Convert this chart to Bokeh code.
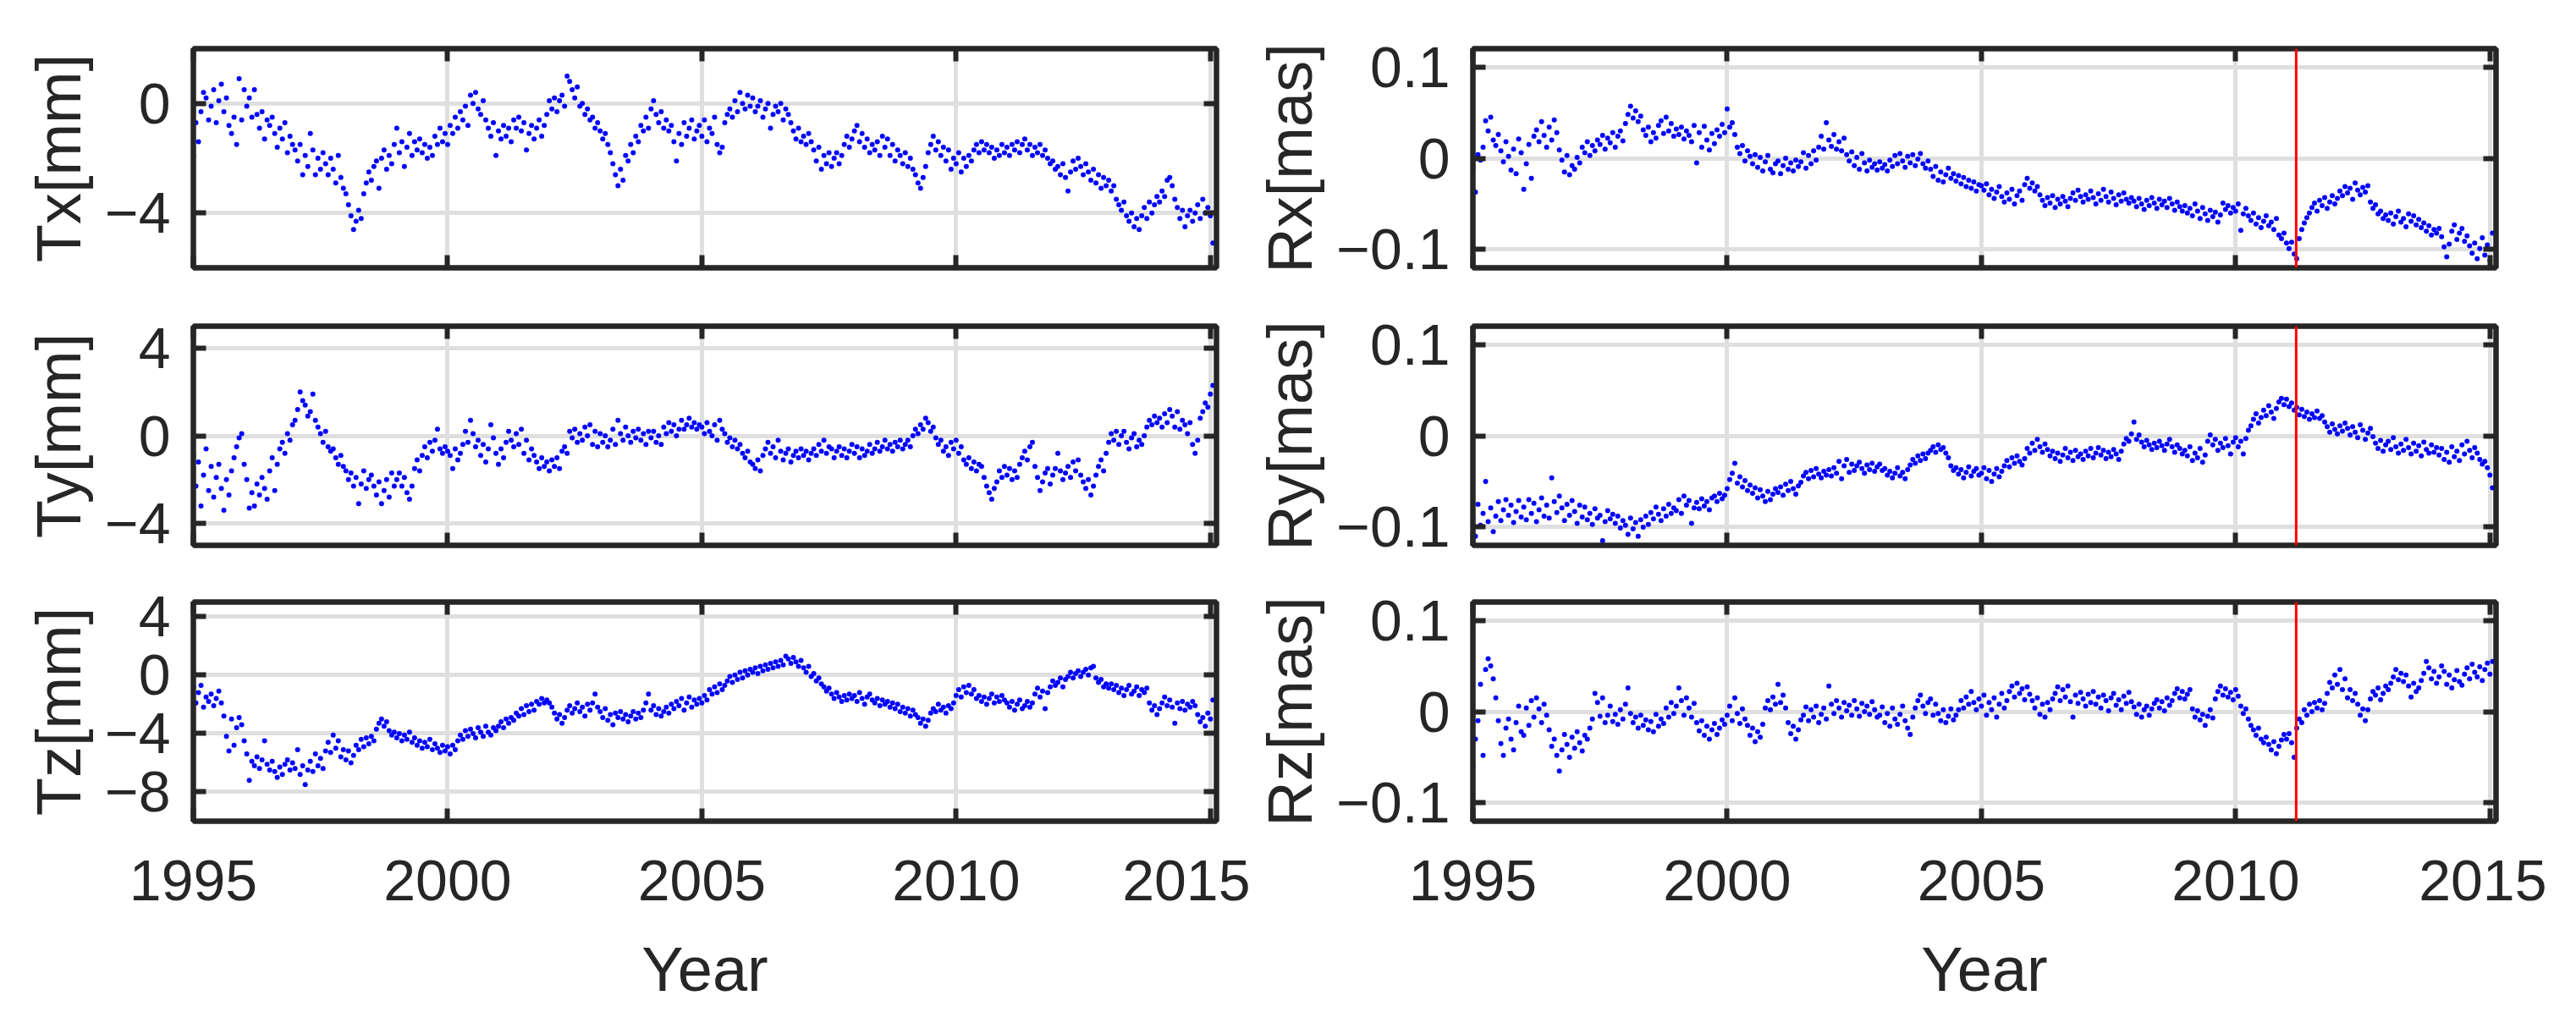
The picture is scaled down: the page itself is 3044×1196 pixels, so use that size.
import numpy as np
from bokeh.plotting import figure
from bokeh.layouts import column, row
from bokeh.models import Range1d, FixedTicker, LinearAxis, Span
from bokeh.embed import file_html
from bokeh.resources import INLINE

# ---------------- data (20 samples per year, starting 1995.00) ----------------
START_YEAR = 1995.0
STEP = 0.05

x_ticks = [1995, 2000, 2005, 2010, 2015]
x_label = "Year"

Tx = [
-1.9,-0.7,-1.4,-0.3,0.4,0.2,-0.6,-0.1,0.5,-0.7,0.1,0.7,-0.3,0.2,-0.8,-1.1,-0.5,-1.5,0.9,-0.6,
0.5,-0.1,0.2,-0.5,0.5,-0.4,-0.9,-0.3,-1.3,-0.6,-0.8,-0.5,-1.1,-1.6,-0.9,-1.3,-0.7,-1.8,-1.2,-1.5,
-1.7,-2.1,-1.5,-2.6,-1.9,-2.3,-1.1,-1.7,-2.6,-2.0,-2.4,-1.8,-2.2,-2.6,-2.0,-2.4,-2.9,-1.9,-2.7,-3.1,
-3.3,-3.7,-4.1,-4.6,-4.3,-3.9,-4.2,-3.3,-2.9,-2.5,-2.8,-2.3,-2.1,-3.1,-2.0,-1.7,-2.4,-1.9,-2.2,-1.5,
-0.9,-1.8,-1.4,-2.3,-1.6,-1.1,-1.9,-1.4,-1.7,-1.3,-1.8,-1.5,-2.0,-1.6,-1.9,-1.2,-1.5,-0.9,-1.4,-1.1,
-1.5,-0.8,-1.1,-0.5,-0.9,-0.3,-0.6,-0.1,-0.8,0.3,0.0,0.4,-0.2,-0.4,0.1,-0.6,-0.9,-1.2,-0.7,-1.9,
-1.0,-1.3,-0.8,-1.2,-0.9,-1.4,-0.6,-0.9,-0.5,-1.0,-0.7,-1.7,-1.1,-0.8,-1.3,-0.9,-0.6,-1.2,-0.8,-0.4,
0.1,-0.2,0.2,-0.3,0.1,0.3,-0.1,1.0,0.8,0.5,0.2,0.6,-0.1,0.0,-0.4,-0.2,-0.6,-0.5,-0.9,-0.7,
-1.0,-1.3,-1.1,-1.5,-1.8,-2.2,-2.6,-3.0,-2.4,-2.8,-1.9,-2.1,-1.5,-1.8,-1.2,-1.4,-0.8,-1.0,-0.5,-0.9,
-0.2,0.1,-0.4,-0.7,-0.3,-0.9,-0.6,-1.0,-0.8,-1.4,-2.1,-1.1,-1.5,-0.7,-1.2,-0.9,-0.6,-1.3,-1.0,-0.8,
-1.2,-0.6,-1.4,-0.9,-1.1,-0.5,-1.5,-1.8,-1.6,-0.7,-0.4,-0.2,-0.5,0.1,-0.3,0.4,0.0,-0.2,0.3,-0.1,
0.2,-0.3,-0.1,0.1,-0.5,-0.2,0.0,-0.9,-0.4,-0.1,-0.3,0.0,-0.6,-0.2,-0.4,-0.7,-1.0,-1.3,-0.9,-1.4,
-1.2,-1.5,-1.1,-1.4,-1.7,-2.1,-1.6,-2.4,-1.9,-2.2,-1.8,-2.3,-2.0,-1.8,-2.2,-1.9,-1.5,-1.2,-1.6,-1.3,
-1.0,-0.8,-1.4,-1.1,-1.6,-1.3,-1.8,-1.5,-1.7,-1.4,-1.9,-1.2,-1.6,-1.3,-1.9,-1.5,-2.1,-1.7,-1.9,-2.2,
-1.8,-2.3,-2.0,-2.4,-2.6,-2.9,-3.1,-2.7,-2.3,-1.8,-1.5,-1.2,-1.7,-1.4,-1.9,-1.6,-2.1,-1.7,-2.4,-2.0,
-2.2,-1.8,-2.5,-2.0,-2.3,-1.9,-2.1,-1.7,-1.5,-1.8,-1.4,-1.7,-1.5,-1.8,-1.6,-2.0,-1.7,-1.9,-1.5,-1.8,
-1.6,-1.9,-1.5,-1.7,-1.4,-1.8,-1.5,-1.3,-1.7,-1.5,-1.9,-1.6,-1.8,-1.5,-1.9,-1.7,-2.0,-2.2,-2.1,-2.4,
-2.3,-2.6,-2.2,-2.7,-3.2,-2.5,-2.1,-2.4,-2.0,-2.3,-2.6,-2.2,-2.5,-2.8,-2.4,-2.9,-2.6,-3.1,-2.7,-3.0,
-2.8,-3.2,-3.0,-3.5,-3.7,-3.9,-3.6,-4.1,-4.3,-4.0,-4.5,-4.2,-4.6,-4.1,-3.8,-4.2,-3.6,-4.0,-3.7,-3.4,
-3.6,-3.2,-3.4,-2.8,-2.7,-3.0,-3.5,-3.8,-4.2,-3.9,-4.5,-4.1,-3.9,-4.3,-4.0,-3.7,-4.2,-3.5,-4.0,-3.8,
-4.1,-5.1,
]

Ty = [
-0.9,-2.3,-1.2,-3.2,-1.8,-0.6,-2.5,-1.4,-2.8,-1.9,-1.3,-2.4,-3.4,-2.0,-2.7,-1.6,-1.0,-0.5,-0.1,0.1,
-1.3,-2.0,-3.3,-2.6,-3.2,-2.2,-2.7,-1.9,-2.4,-2.9,-1.6,-1.0,-2.5,-1.3,-0.6,-0.3,-0.8,0.1,-0.2,0.5,
0.7,1.2,2.0,1.6,1.4,0.9,1.1,1.9,0.7,0.4,0.1,-0.3,0.2,-0.5,-0.7,-0.6,-1.0,-1.3,-0.9,-1.4,
-1.6,-2.0,-1.7,-2.3,-1.9,-3.1,-2.2,-1.6,-2.4,-2.0,-1.8,-2.3,-2.7,-2.1,-3.1,-2.5,-2.0,-2.8,-1.7,-2.3,
-2.0,-1.7,-2.3,-1.9,-2.6,-2.9,-2.3,-1.5,-1.1,-1.6,-0.9,-0.5,-1.0,-0.3,-0.7,-0.2,0.3,-0.6,-0.8,-0.5,
-0.7,-0.9,-1.5,-0.6,-1.1,-0.8,-0.4,0.2,-0.3,0.7,0.1,-0.5,-0.2,-0.9,-0.4,-1.2,-0.6,0.5,-0.1,-0.8,
-1.3,-0.6,-1.0,-0.3,0.2,-0.2,-0.5,0.1,-0.4,0.3,-0.8,-0.2,-1.1,-0.6,-0.9,-1.2,-1.5,-1.0,-1.4,-1.2,
-1.6,-1.1,-1.4,-1.0,-1.5,-0.7,-0.5,-0.8,0.2,-0.1,0.3,-0.3,0.1,-0.2,0.4,0.0,0.5,-0.4,0.2,-0.5,
0.1,-0.3,0.0,-0.5,-0.2,0.3,-0.4,0.7,0.1,-0.2,0.4,0.0,-0.3,0.2,-0.1,0.3,-0.2,0.1,-0.4,0.2,
-0.1,0.2,-0.3,0.0,-0.4,0.4,0.1,0.6,0.2,0.5,0.0,0.3,0.7,0.3,0.5,0.8,0.4,0.6,0.3,0.5,
0.4,0.1,0.6,0.2,0.0,0.5,-0.2,0.7,0.3,0.1,-0.3,-0.1,-0.5,-0.2,-0.6,-0.4,-0.8,-1.0,-0.7,-1.2,
-1.3,-1.5,-1.1,-1.6,-0.9,-0.6,-0.3,-0.8,-0.5,-1.0,-0.2,-0.7,-1.1,-0.8,-0.6,-1.2,-0.9,-0.7,-1.0,-0.6,
-0.9,-0.7,-1.1,-0.8,-0.6,-0.9,-0.4,-0.7,-0.2,-0.8,-0.5,-0.6,-1.0,-0.7,-0.5,-0.9,-0.6,-1.0,-0.7,-0.4,
-0.8,-0.5,-1.0,-0.6,-0.9,-0.7,-0.4,-0.8,-0.6,-0.3,-0.7,-0.5,-0.2,-0.6,-0.4,-0.7,-0.3,-0.5,-0.2,-0.6,
-0.4,-0.2,-0.5,0.0,0.3,0.1,0.5,0.3,0.8,0.6,0.2,0.4,-0.1,-0.4,-0.2,-0.7,-0.5,-0.9,-0.3,-0.6,
-0.2,-0.8,-0.5,-1.1,-1.3,-1.0,-1.5,-1.2,-1.6,-1.3,-1.4,-1.9,-2.3,-2.6,-2.9,-2.4,-2.1,-1.6,-1.9,-1.4,
-1.8,-1.5,-2.0,-1.6,-1.9,-1.3,-1.0,-0.7,-1.1,-0.5,-0.3,-1.4,-1.9,-2.5,-2.1,-1.7,-1.5,-2.2,-1.8,-1.5,
-0.8,-1.6,-2.0,-1.7,-1.4,-1.9,-1.2,-1.6,-1.1,-1.8,-2.1,-2.4,-2.0,-2.7,-2.3,-1.8,-1.4,-1.1,-1.6,-0.8,
-0.3,0.1,-0.2,0.2,-0.4,0.0,0.2,-0.3,-0.6,-0.1,0.1,-0.5,-0.2,-0.4,0.0,0.4,0.7,0.5,0.9,0.6,
0.8,0.4,1.0,0.6,1.2,0.9,0.4,1.1,0.3,0.7,0.5,0.1,0.6,-0.4,-0.8,-0.2,0.8,1.1,1.5,1.3,
1.9,2.3,
]

Tz = [
-0.8,-1.9,-1.2,-0.7,-2.2,-1.5,-1.8,-1.3,-2.1,-1.6,-1.1,-1.9,-2.8,-4.2,-5.2,-3.0,-4.8,-3.6,-2.9,-3.4,
-4.5,-5.4,-7.2,-5.9,-6.2,-5.6,-6.4,-5.8,-4.5,-6.1,-6.5,-5.9,-6.6,-7.0,-6.3,-6.8,-6.1,-5.8,-6.5,-6.0,
-6.4,-5.1,-6.8,-6.2,-7.5,-6.5,-5.9,-6.6,-5.4,-6.2,-5.7,-6.4,-5.2,-4.6,-5.3,-4.1,-5.0,-4.5,-5.6,-5.1,
-5.8,-5.2,-6.0,-5.5,-4.8,-5.1,-4.4,-4.9,-4.3,-4.7,-4.2,-4.5,-3.7,-3.3,-3.0,-3.5,-3.2,-3.8,-4.1,-3.9,
-4.3,-4.0,-4.5,-4.1,-4.4,-3.9,-4.6,-4.3,-4.8,-4.5,-5.0,-4.6,-4.9,-4.4,-5.1,-4.7,-5.0,-5.3,-4.8,-5.2,
-4.9,-5.4,-4.8,-5.1,-4.5,-4.1,-4.4,-3.8,-4.2,-3.7,-4.0,-4.3,-3.6,-3.9,-4.2,-3.5,-3.9,-4.1,-3.6,-3.8,
-3.5,-3.2,-3.6,-3.0,-3.3,-2.9,-3.1,-2.6,-2.8,-2.3,-2.7,-2.1,-2.5,-2.0,-2.4,-1.8,-2.0,-1.6,-1.9,-1.7,
-1.9,-2.2,-2.6,-3.0,-2.7,-3.3,-2.9,-2.4,-2.1,-2.6,-2.3,-1.9,-2.5,-2.2,-2.8,-2.0,-2.4,-1.9,-1.3,-2.2,
-2.5,-2.9,-2.3,-3.1,-2.7,-3.4,-2.6,-2.9,-2.5,-3.0,-2.7,-3.2,-2.8,-2.5,-3.0,-2.6,-2.9,-2.4,-1.9,-1.3,
-2.4,-2.1,-2.7,-2.3,-2.8,-2.5,-2.2,-2.6,-2.0,-2.3,-1.8,-2.1,-1.6,-2.4,-1.9,-1.5,-2.2,-1.7,-2.0,-1.6,
-1.9,-1.4,-1.7,-1.0,-1.3,-0.8,-1.2,-0.6,-1.0,-0.7,-0.4,-0.1,-0.5,0.0,-0.3,0.2,-0.2,0.3,0.0,0.4,
0.2,0.5,0.1,0.6,0.3,0.7,0.4,0.8,0.5,0.9,0.6,1.0,0.7,1.3,1.1,0.8,1.2,0.9,0.6,1.0,
0.5,0.2,0.6,-0.1,0.1,-0.4,-0.2,-0.6,-0.8,-1.1,-0.9,-1.3,-1.6,-1.2,-1.5,-1.8,-1.4,-1.7,-1.3,-1.6,
-1.4,-1.8,-1.2,-1.6,-2.0,-1.5,-1.3,-1.7,-1.9,-1.6,-2.1,-1.7,-2.0,-1.8,-2.2,-1.9,-2.3,-2.0,-2.5,-2.2,
-2.6,-2.3,-2.8,-2.4,-2.7,-2.9,-3.3,-3.0,-3.5,-3.1,-2.6,-2.3,-2.5,-2.0,-2.4,-2.2,-2.6,-2.1,-2.3,-1.9,
-1.4,-1.0,-1.5,-0.8,-1.2,-0.7,-1.3,-1.0,-1.6,-1.4,-1.8,-1.5,-2.0,-1.6,-1.3,-1.9,-1.5,-1.8,-1.4,-1.7,
-1.9,-2.2,-1.8,-2.4,-2.0,-1.7,-2.3,-2.1,-1.8,-2.2,-1.9,-1.3,-0.9,-1.5,-1.1,-2.3,-1.2,-0.8,-0.4,-0.7,
-0.5,-0.2,-0.8,-0.3,-0.1,0.2,-0.2,0.1,0.3,-0.1,0.2,0.4,0.0,0.5,0.6,-0.2,-0.5,-0.3,-0.8,-0.6,
-0.9,-0.6,-1.0,-0.7,-1.2,-0.9,-1.4,-1.0,-0.7,-1.3,-1.1,-0.8,-1.4,-1.0,-1.2,-0.9,-1.9,-2.4,-2.1,-2.7,
-2.3,-1.9,-1.5,-2.1,-1.7,-2.2,-3.3,-1.9,-2.3,-1.8,-2.4,-2.0,-2.2,-1.8,-2.1,-2.7,-3.2,-2.9,-3.5,-2.6,
-3.0,-1.7,
]

Rx = [
-0.011,-0.037,0.004,-0.002,0.012,0.041,0.030,0.045,0.020,0.014,0.026,0.008,-0.004,0.018,0.002,-0.013,0.010,-0.017,0.021,0.006,
-0.034,-0.006,0.015,-0.022,0.024,0.031,0.018,0.040,0.025,0.012,0.034,0.020,0.042,0.028,0.009,-0.002,-0.015,0.003,-0.018,-0.008,
-0.012,0.001,-0.005,0.012,0.006,0.018,0.003,0.014,0.008,0.020,0.015,0.025,0.010,0.022,0.017,0.028,0.012,0.024,0.030,0.019,
0.038,0.048,0.057,0.044,0.052,0.040,0.046,0.031,0.025,0.034,0.018,0.028,0.022,0.036,0.041,0.027,0.045,0.030,0.038,0.024,
0.032,0.026,0.034,0.021,0.030,0.025,0.018,0.036,-0.005,0.028,0.012,0.035,0.020,0.009,0.027,0.016,0.031,0.024,0.037,0.028,
0.054,0.034,0.039,0.026,0.012,0.005,0.014,-0.003,0.008,0.002,-0.006,0.004,-0.010,0.001,-0.014,-0.004,0.003,-0.012,-0.016,-0.006,
-0.003,-0.017,-0.008,0.000,-0.012,-0.005,-0.014,-0.002,-0.009,-0.004,0.006,-0.011,0.003,-0.006,0.008,-0.002,0.012,0.024,0.010,0.039,
0.020,0.013,0.026,0.010,0.018,0.008,0.022,0.004,-0.003,0.007,-0.008,0.001,-0.012,0.005,-0.005,-0.014,-0.002,-0.010,-0.006,-0.013,
-0.004,-0.011,-0.007,-0.014,-0.002,-0.009,0.003,-0.006,0.005,-0.003,-0.010,0.002,-0.005,0.004,-0.008,-0.001,0.005,-0.006,-0.011,-0.003,
-0.012,-0.020,-0.009,-0.024,-0.015,-0.026,-0.018,-0.011,-0.022,-0.017,-0.025,-0.019,-0.028,-0.021,-0.031,-0.024,-0.033,-0.026,-0.036,-0.029,
-0.030,-0.035,-0.028,-0.040,-0.034,-0.044,-0.037,-0.031,-0.042,-0.048,-0.038,-0.045,-0.034,-0.050,-0.041,-0.036,-0.046,-0.029,-0.022,-0.033,
-0.027,-0.036,-0.031,-0.040,-0.046,-0.052,-0.043,-0.049,-0.041,-0.054,-0.045,-0.050,-0.042,-0.047,-0.053,-0.044,-0.038,-0.046,-0.035,-0.042,
-0.048,-0.040,-0.045,-0.036,-0.043,-0.050,-0.039,-0.046,-0.034,-0.042,-0.048,-0.037,-0.044,-0.051,-0.040,-0.047,-0.038,-0.045,-0.049,-0.043,
-0.047,-0.053,-0.044,-0.050,-0.056,-0.046,-0.052,-0.043,-0.049,-0.055,-0.045,-0.051,-0.047,-0.054,-0.044,-0.050,-0.057,-0.048,-0.053,-0.058,
-0.052,-0.060,-0.055,-0.063,-0.050,-0.058,-0.066,-0.054,-0.061,-0.068,-0.057,-0.064,-0.059,-0.070,-0.062,-0.049,-0.056,-0.052,-0.060,-0.054,
-0.058,-0.050,-0.079,-0.061,-0.055,-0.063,-0.068,-0.060,-0.072,-0.065,-0.076,-0.069,-0.063,-0.074,-0.070,-0.078,-0.066,-0.084,-0.088,-0.082,
-0.093,-0.099,-0.092,-0.105,-0.110,-0.088,-0.078,-0.071,-0.065,-0.060,-0.054,-0.049,-0.058,-0.046,-0.052,-0.043,-0.055,-0.048,-0.041,-0.050,
-0.044,-0.036,-0.041,-0.031,-0.038,-0.033,-0.045,-0.027,-0.035,-0.040,-0.032,-0.037,-0.030,-0.048,-0.055,-0.051,-0.061,-0.058,-0.066,-0.062,
-0.068,-0.060,-0.072,-0.064,-0.058,-0.070,-0.066,-0.075,-0.061,-0.069,-0.063,-0.073,-0.067,-0.076,-0.071,-0.080,-0.074,-0.084,-0.078,-0.082,
-0.077,-0.086,-0.097,-0.108,-0.094,-0.080,-0.073,-0.089,-0.082,-0.077,-0.091,-0.085,-0.096,-0.104,-0.093,-0.110,-0.099,-0.087,-0.106,-0.095,
-0.112,-0.082,
]

Ry = [
-0.090,-0.110,-0.075,-0.098,-0.085,-0.050,-0.094,-0.079,-0.105,-0.088,-0.072,-0.093,-0.081,-0.070,-0.087,-0.076,-0.095,-0.083,-0.071,-0.089,
-0.078,-0.092,-0.070,-0.085,-0.074,-0.094,-0.081,-0.068,-0.088,-0.076,-0.090,-0.046,-0.072,-0.084,-0.066,-0.079,-0.093,-0.075,-0.087,-0.071,
-0.083,-0.096,-0.076,-0.089,-0.078,-0.092,-0.085,-0.097,-0.080,-0.090,-0.087,-0.115,-0.094,-0.082,-0.091,-0.086,-0.096,-0.088,-0.101,-0.093,
-0.098,-0.108,-0.090,-0.102,-0.095,-0.110,-0.092,-0.100,-0.088,-0.097,-0.084,-0.091,-0.078,-0.086,-0.093,-0.080,-0.088,-0.075,-0.085,-0.079,
-0.082,-0.070,-0.085,-0.066,-0.076,-0.071,-0.096,-0.079,-0.073,-0.080,-0.069,-0.077,-0.072,-0.081,-0.068,-0.066,-0.072,-0.063,-0.069,-0.065,
-0.058,-0.048,-0.041,-0.030,-0.052,-0.045,-0.056,-0.049,-0.060,-0.054,-0.063,-0.057,-0.068,-0.059,-0.066,-0.072,-0.061,-0.070,-0.064,-0.058,
-0.062,-0.056,-0.065,-0.053,-0.060,-0.050,-0.058,-0.064,-0.055,-0.051,-0.044,-0.040,-0.047,-0.038,-0.045,-0.036,-0.042,-0.046,-0.039,-0.043,
-0.037,-0.044,-0.035,-0.041,-0.028,-0.047,-0.033,-0.026,-0.040,-0.031,-0.038,-0.033,-0.029,-0.036,-0.041,-0.032,-0.037,-0.030,-0.039,-0.034,
-0.031,-0.038,-0.036,-0.043,-0.039,-0.046,-0.041,-0.035,-0.044,-0.040,-0.047,-0.037,-0.032,-0.026,-0.030,-0.022,-0.027,-0.020,-0.025,-0.019,
-0.016,-0.012,-0.018,-0.010,-0.015,-0.013,-0.019,-0.024,-0.033,-0.038,-0.035,-0.042,-0.037,-0.046,-0.040,-0.034,-0.044,-0.039,-0.036,-0.043,
-0.041,-0.035,-0.047,-0.038,-0.050,-0.042,-0.036,-0.045,-0.039,-0.033,-0.027,-0.034,-0.024,-0.030,-0.022,-0.028,-0.032,-0.025,-0.014,-0.019,
-0.008,-0.016,-0.004,-0.012,-0.018,-0.009,-0.015,-0.022,-0.017,-0.025,-0.019,-0.028,-0.021,-0.014,-0.024,-0.018,-0.027,-0.016,-0.023,-0.020,
-0.026,-0.017,-0.022,-0.014,-0.024,-0.019,-0.013,-0.021,-0.016,-0.025,-0.018,-0.023,-0.015,-0.020,-0.026,-0.017,-0.009,-0.003,-0.006,0.002,
0.015,-0.004,0.001,-0.007,-0.012,-0.005,-0.010,-0.015,-0.008,-0.013,-0.006,-0.011,-0.016,-0.009,-0.004,-0.012,-0.018,-0.010,-0.014,-0.020,
-0.016,-0.022,-0.012,-0.027,-0.019,-0.024,-0.014,-0.029,-0.021,-0.006,0.001,-0.010,-0.004,-0.016,-0.008,-0.013,-0.003,-0.011,-0.020,-0.007,
-0.002,-0.012,-0.006,-0.020,-0.003,0.006,0.011,0.018,0.024,0.014,0.020,0.028,0.022,0.033,0.026,0.019,0.030,0.037,0.041,0.034,
0.040,0.032,0.036,0.028,0.031,0.023,0.029,0.021,0.026,0.018,0.024,0.020,0.027,0.019,0.022,0.015,0.010,0.004,0.013,0.007,
0.002,0.011,0.005,0.014,0.008,0.001,0.010,0.004,-0.002,0.012,0.006,-0.004,0.003,0.008,-0.001,-0.008,-0.014,-0.005,-0.017,-0.010,
-0.006,-0.015,-0.002,-0.012,-0.019,-0.009,-0.016,-0.004,-0.013,-0.020,-0.008,-0.017,-0.011,-0.022,-0.007,-0.015,-0.019,-0.010,-0.018,-0.013,
-0.021,-0.014,-0.026,-0.018,-0.029,-0.012,-0.023,-0.017,-0.027,-0.010,-0.020,-0.006,-0.016,-0.024,-0.013,-0.019,-0.026,-0.031,-0.028,-0.035,
-0.043,-0.057,
]

Rz = [
-0.060,-0.030,-0.010,0.030,-0.048,0.046,0.058,0.050,0.036,0.015,-0.010,-0.035,-0.048,-0.018,-0.008,-0.030,-0.042,-0.012,0.006,-0.022,
-0.026,0.004,-0.015,0.012,-0.006,0.015,0.003,-0.012,0.008,-0.004,-0.020,-0.038,-0.030,-0.048,-0.065,-0.042,-0.025,-0.036,-0.050,-0.028,
-0.040,-0.022,-0.034,-0.043,-0.026,-0.030,-0.018,-0.008,0.020,0.010,-0.005,0.015,-0.012,-0.004,0.006,-0.011,-0.003,-0.014,0.002,-0.008,
0.008,0.026,-0.002,-0.012,-0.006,-0.018,-0.004,-0.015,-0.009,-0.020,-0.011,-0.022,-0.003,-0.016,-0.008,-0.013,0.004,-0.006,0.010,-0.002,
0.006,0.026,0.012,-0.004,0.015,0.004,-0.006,0.009,-0.012,-0.021,-0.010,-0.026,-0.016,-0.030,-0.020,-0.013,-0.025,-0.018,-0.009,-0.014,
-0.004,0.006,-0.010,0.015,-0.002,-0.013,0.003,-0.008,-0.015,-0.026,-0.018,-0.033,-0.022,-0.028,-0.014,0.004,0.012,0.002,0.016,0.008,
0.030,0.010,0.018,0.004,-0.012,-0.024,-0.016,-0.030,-0.020,-0.009,-0.004,0.005,-0.010,0.002,-0.006,0.006,-0.012,-0.003,0.004,-0.008,
0.028,0.008,-0.002,0.012,0.004,-0.006,0.010,0.001,0.007,-0.004,0.012,0.003,-0.005,0.009,0.000,0.006,-0.003,0.011,0.002,-0.006,
-0.004,0.005,-0.012,-0.002,-0.016,0.004,-0.008,-0.014,-0.003,0.006,-0.010,-0.018,-0.025,-0.006,0.004,0.012,0.018,0.006,-0.002,0.010,
0.014,-0.004,0.008,-0.002,-0.010,0.002,-0.012,-0.005,0.003,-0.009,-0.004,0.002,0.012,0.004,0.016,0.008,0.022,0.010,0.002,0.014,
0.006,0.018,-0.004,0.010,0.002,0.015,-0.006,0.008,0.020,0.004,0.012,0.022,0.028,0.016,0.031,0.020,0.025,0.013,0.027,0.019,
0.012,0.004,0.015,-0.003,0.008,-0.006,0.010,0.002,0.014,0.020,0.027,0.012,0.024,0.016,0.028,0.011,-0.006,0.018,0.009,0.021,
0.014,0.006,0.019,0.010,0.022,0.008,0.016,0.004,0.018,0.012,0.001,0.015,0.020,0.007,0.013,0.002,0.017,0.009,0.021,0.011,
0.005,-0.003,0.008,-0.006,0.002,0.006,-0.004,0.003,0.009,0.013,0.004,0.011,0.001,0.015,0.007,0.012,0.020,0.025,0.015,0.022,
0.014,0.019,0.024,0.003,-0.006,0.001,-0.009,-0.003,-0.015,-0.005,0.002,-0.007,0.014,0.022,0.028,0.018,0.025,0.016,0.021,0.013,
0.024,0.017,0.006,-0.002,0.003,-0.008,-0.015,-0.020,-0.026,-0.018,-0.030,-0.034,-0.028,-0.036,-0.042,-0.033,-0.046,-0.038,-0.031,-0.025,
-0.030,-0.024,-0.034,-0.050,-0.018,-0.008,-0.012,0.002,-0.004,0.008,0.000,0.010,0.004,0.012,0.002,0.009,0.020,0.032,0.026,0.040,
0.030,0.046,0.024,0.036,0.015,0.024,0.012,0.020,0.008,-0.004,0.003,-0.010,0.002,0.014,0.022,0.018,0.026,0.013,0.020,0.028,
0.024,0.031,0.038,0.046,0.035,0.042,0.033,0.040,0.028,0.016,0.031,0.022,0.026,0.034,0.042,0.055,0.048,0.036,0.044,0.031,
0.038,0.050,0.044,0.030,0.040,0.026,0.035,0.045,0.033,0.029,0.041,0.048,0.036,0.052,0.043,0.038,0.049,0.034,0.046,0.053,
0.041,0.055,
]

event_year = 2011.19  # marked with a red vertical line in the rotation panels

panels = [
    # (label, values, y-range, y-ticks, red line)
    ("Tx[mm]", Tx, (-6, 2), [-4, 0], False),
    ("Rx[mas]", Rx, (-0.12, 0.12), [-0.1, 0, 0.1], True),
    ("Ty[mm]", Ty, (-5, 5), [-4, 0, 4], False),
    ("Ry[mas]", Ry, (-0.12, 0.12), [-0.1, 0, 0.1], True),
    ("Tz[mm]", Tz, (-10, 5), [-8, -4, 0, 4], False),
    ("Rz[mas]", Rz, (-0.12, 0.12), [-0.1, 0, 0.1], True),
]

# ---------------- styling ----------------
FONT = "Liberation Sans"
INK = "#262626"
GRID = "#dfdfdf"
DOT = "#0000ff"
TICK_FS = "68px"
LABEL_FS = "74px"
FRAME_W = 1209
FRAME_H = 259
X_END = 2015.12
LW = 6

# borders: (left, right) per column, (top, bottom) per row  (page has no body margin)
COL_BORDERS = [(228, 40), (263, 60)]
ROW_BORDERS = [(57, 34), (35, 33), (34, 222)]


def style_axis(ax, ticks, show_labels):
    ax.ticker = FixedTicker(ticks=ticks)
    ax.axis_line_color = INK
    ax.axis_line_width = LW
    ax.major_tick_line_color = INK
    ax.major_tick_line_width = LW
    ax.major_tick_in = 15
    ax.major_tick_out = 0
    ax.minor_tick_line_color = None
    if show_labels:
        ax.major_label_text_font = FONT
        ax.major_label_text_font_size = TICK_FS
        ax.major_label_text_color = INK
    else:
        ax.major_label_overrides = {t: "" for t in ticks}
        ax.major_label_text_font_size = "1px"
        ax.major_label_text_color = None
        ax.major_label_standoff = 0


figs = []
for i, (lab, vals, yr, yt, red) in enumerate(panels):
    r, c = divmod(i, 2)
    bl, br = COL_BORDERS[c]
    bt, bb = ROW_BORDERS[r]
    p = figure(
        width=bl + FRAME_W + br, height=bt + FRAME_H + bb,
        x_range=Range1d(START_YEAR, X_END), y_range=Range1d(*yr),
        output_backend="svg", toolbar_location=None, tools="",
        min_border_left=bl, min_border_right=br,
        min_border_top=bt, min_border_bottom=bb,
    )
    p.background_fill_color = "white"
    p.border_fill_color = "white"
    p.outline_line_color = INK
    p.outline_line_width = LW

    xb = p.xaxis[0]
    yl = p.yaxis[0]
    last_row = (r == 2)
    style_axis(xb, x_ticks, last_row)
    style_axis(yl, yt, True)
    yl.major_label_standoff = 27
    yl.axis_label = lab
    yl.axis_label_text_font = FONT
    yl.axis_label_text_font_size = LABEL_FS
    yl.axis_label_text_font_style = "normal"
    yl.axis_label_text_color = INK
    yl.axis_label_standoff = 10
    if last_row:
        xb.major_label_standoff = 46
        xb.axis_label = x_label
        xb.axis_label_text_font = FONT
        xb.axis_label_text_font_size = LABEL_FS
        xb.axis_label_text_font_style = "normal"
        xb.axis_label_text_color = INK
        xb.axis_label_standoff = 37

    xt = LinearAxis()
    style_axis(xt, x_ticks, False)
    p.add_layout(xt, "above")
    yr_ax = LinearAxis()
    style_axis(yr_ax, yt, False)
    p.add_layout(yr_ax, "right")

    p.xgrid.ticker = FixedTicker(ticks=x_ticks)
    p.ygrid.ticker = FixedTicker(ticks=yt)
    for g in (p.xgrid[0], p.ygrid[0]):
        g.grid_line_color = GRID
        g.grid_line_width = 5

    years = START_YEAR + STEP * np.arange(len(vals))
    p.scatter(x=years, y=np.array(vals), size=6, marker="circle",
              fill_color=DOT, line_color=None)

    if red:
        p.add_layout(Span(location=event_year, dimension="height",
                          line_color="#ff0000", line_width=3))
    figs.append(p)

layout = column(row(figs[0], figs[1]), row(figs[2], figs[3]), row(figs[4], figs[5]))

open("out.html", "w").write(file_html(layout, INLINE, title="Helmert parameters"))
